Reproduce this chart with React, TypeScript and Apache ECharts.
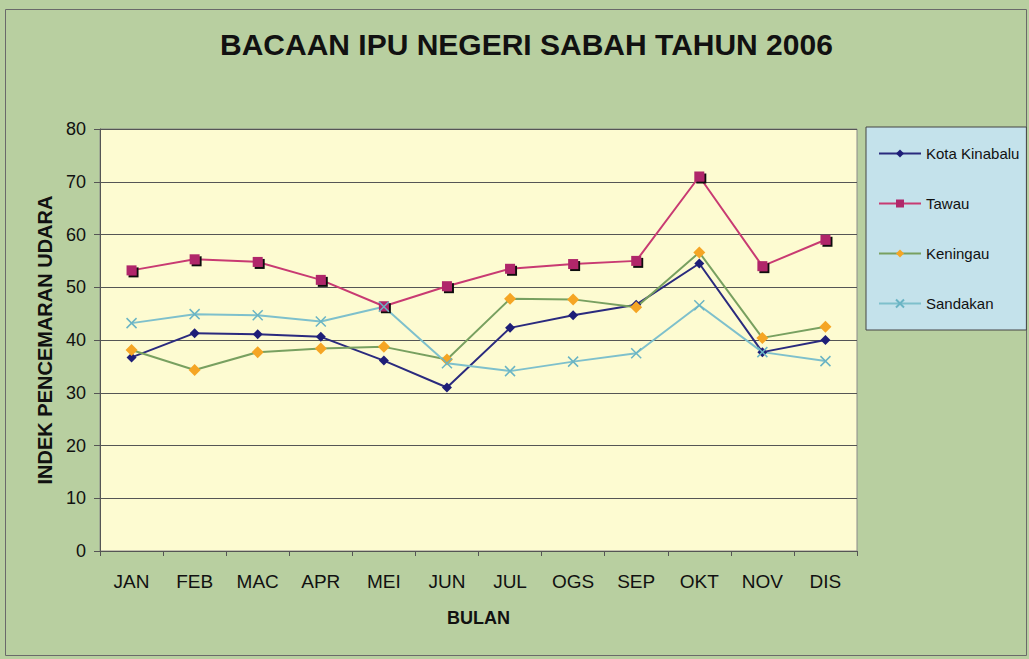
import React, { useEffect, useRef } from "react";
import * as echarts from "echarts";

const months = ["JAN", "FEB", "MAC", "APR", "MEI", "JUN", "JUL", "OGS", "SEP", "OKT", "NOV", "DIS"];
const kotaKinabalu = [36.7, 41.3, 41.1, 40.6, 36.1, 31.0, 42.3, 44.7, 46.7, 54.5, 37.7, 40.0];
const tawau = [53.2, 55.3, 54.8, 51.4, 46.4, 50.2, 53.5, 54.4, 55.0, 71.0, 54.0, 59.0];
const keningau = [38.1, 34.3, 37.7, 38.4, 38.7, 36.3, 47.8, 47.7, 46.2, 56.6, 40.4, 42.5];
const sandakan = [43.2, 44.9, 44.7, 43.5, 46.3, 35.6, 34.1, 35.9, 37.5, 46.6, 37.7, 36.0];
const yTicks = { min: 0, max: 80, interval: 10 };

const FONT = "'Liberation Sans', Arial, sans-serif";

export default function App() {
  const ref = useRef<HTMLDivElement>(null);
  useEffect(() => {
    document.body.style.margin = "0";
    const chart = echarts.init(ref.current!, null, { renderer: "svg" });
    const crossPath = "path://M0,0L10,10M10,0L0,10";
    chart.setOption({
      animation: false,
      backgroundColor: "#b8cfa0",
      textStyle: { fontFamily: FONT },
      title: {
        text: "BACAAN IPU NEGERI SABAH TAHUN 2006",
        left: 215,
        top: 24,
        textStyle: { fontFamily: FONT, fontSize: 30, fontWeight: "bold", color: "#111" },
      },
      graphic: [
        {
          type: "rect",
          shape: { x: 5.5, y: 9.5, width: 1021, height: 646 },
          style: { fill: "none", stroke: "#6a6a6a", lineWidth: 1 },
          silent: true,
        },
      ],
      legend: {
        orient: "vertical",
        left: 866,
        top: 127,
        padding: [19, 7, 19, 12],
        itemGap: 35,
        itemWidth: 42,
        itemHeight: 10,
        backgroundColor: "#c4e2eb",
        borderColor: "#444",
        borderWidth: 1,
        textStyle: { fontFamily: FONT, fontSize: 15, color: "#111" },
        data: ["Kota Kinabalu", "Tawau", "Keningau", "Sandakan"],
      },
      grid: {
        left: 100,
        top: 129,
        right: 172,
        bottom: 108,
        show: true,
        backgroundColor: "#fdfbd1",
        borderColor: "#8a8a8a",
        borderWidth: 1,
      },
      xAxis: {
        type: "category",
        data: months,
        boundaryGap: true,
        axisLine: { lineStyle: { color: "#555" } },
        axisTick: { show: true, length: 5, lineStyle: { color: "#555" } },
        axisLabel: { fontFamily: FONT, fontSize: 19, color: "#111", margin: 21 },
        name: "BULAN",
        nameLocation: "middle",
        nameGap: 58,
        nameTextStyle: { fontFamily: FONT, fontSize: 18, fontWeight: "bold", color: "#111" },
      },
      yAxis: {
        type: "value",
        min: yTicks.min,
        max: yTicks.max,
        interval: yTicks.interval,
        axisLine: { show: true, lineStyle: { color: "#555" } },
        axisTick: { show: true, length: 6, lineStyle: { color: "#555" } },
        axisLabel: { fontFamily: FONT, fontSize: 18, color: "#111", margin: 14 },
        splitLine: { lineStyle: { color: "#555", width: 1 } },
        name: "INDEK PENCEMARAN UDARA",
        nameLocation: "middle",
        nameGap: 42,
        nameTextStyle: { fontFamily: FONT, fontSize: 20, fontWeight: "bold", color: "#111" },
      },
      series: [
        {
          name: "Kota Kinabalu",
          type: "line",
          data: kotaKinabalu,
          symbol: "diamond",
          symbolSize: 10,
          lineStyle: { color: "#2a2a7e", width: 2 },
          itemStyle: { color: "#1e1e78" },
        },
        {
          name: "Tawau",
          type: "line",
          data: tawau,
          symbol: "rect",
          symbolSize: 10,
          lineStyle: { color: "#c83a72", width: 2 },
          itemStyle: {
            color: "#b0286a",
            shadowColor: "#111",
            shadowOffsetX: 2,
            shadowOffsetY: 2,
            shadowBlur: 0,
          },
        },
        {
          name: "Keningau",
          type: "line",
          data: keningau,
          symbol: "diamond",
          symbolSize: 12,
          lineStyle: { color: "#78a060", width: 2 },
          itemStyle: { color: "#f5a524" },
        },
        {
          name: "Sandakan",
          type: "line",
          data: sandakan,
          symbol: crossPath,
          symbolSize: 10,
          lineStyle: { color: "#7ec0cc", width: 2 },
          itemStyle: { color: "none", borderColor: "#6ab4c4", borderWidth: 1.5 },
        },
      ],
    });
    return () => chart.dispose();
  }, []);
  return <div ref={ref} style={{ width: 1029, height: 659 }} />;
}
